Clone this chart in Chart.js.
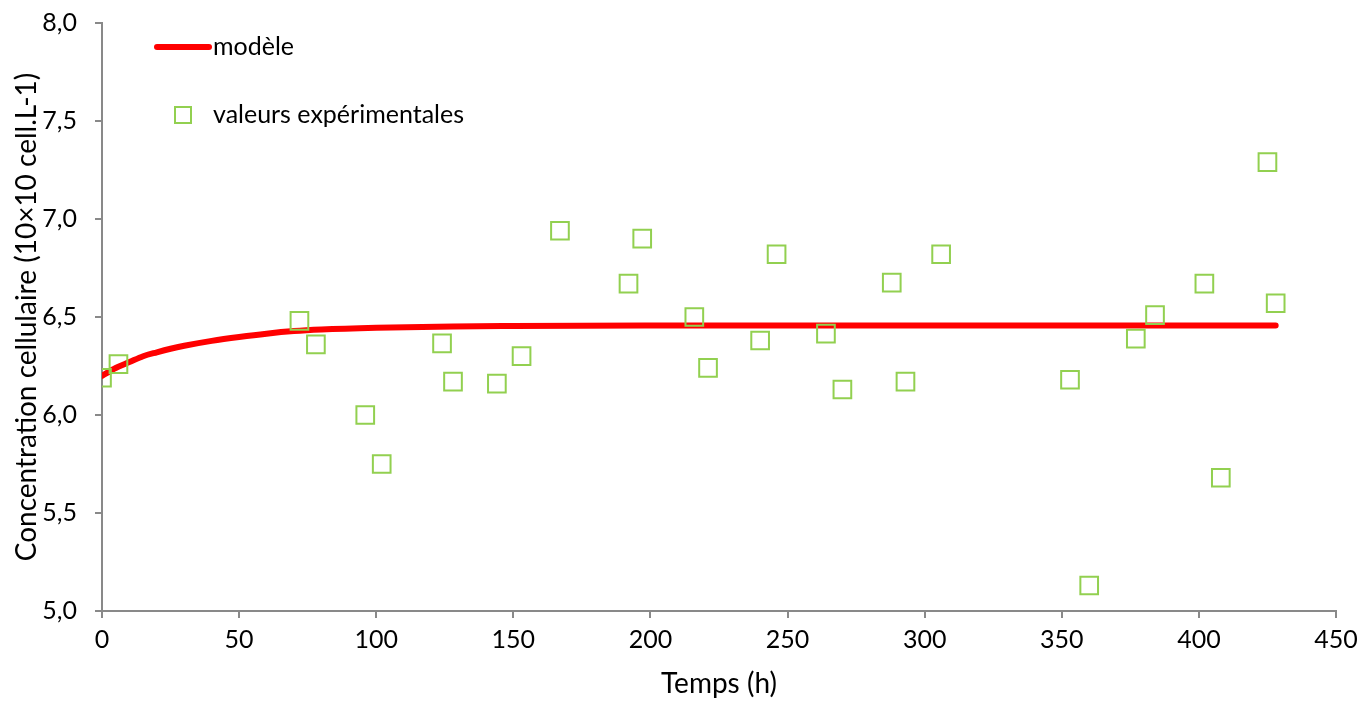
<!DOCTYPE html>
<html>
<head>
<meta charset="utf-8">
<script src="https://cdn.jsdelivr.net/npm/chart.js@4/dist/chart.umd.min.js"></script>
<style>
  html, body { margin: 0; padding: 0; background: #fff; }
  #wrap { width: 1360px; height: 701px; }
</style>
</head>
<body>
<div id="wrap"><canvas id="chart"></canvas></div>
<script>
// model curve
const modelTimes = [0, 5, 10, 15, 20, 25, 30, 40, 50, 60, 70, 80, 100, 128, 150, 200, 250, 300, 350, 400, 428];
const modelValues = [6.20, 6.24, 6.27, 6.30, 6.32, 6.338, 6.353, 6.378, 6.398, 6.415, 6.428, 6.436, 6.445, 6.452, 6.454, 6.456, 6.456, 6.456, 6.456, 6.456, 6.456];

// experimental points
const expTimes = [0, 6, 72, 78, 96, 102, 124, 128, 144, 153, 167, 192, 197, 216, 221, 240, 246, 264, 270, 288, 293, 306, 353, 360, 377, 384, 402, 408, 425, 428];
const expValues = [6.19, 6.26, 6.48, 6.36, 6.00, 5.75, 6.365, 6.17, 6.16, 6.30, 6.94, 6.67, 6.90, 6.50, 6.24, 6.38, 6.82, 6.415, 6.13, 6.675, 6.17, 6.82, 6.18, 5.13, 6.39, 6.51, 6.67, 5.68, 7.29, 6.57];

const xTicks = [0, 50, 100, 150, 200, 250, 300, 350, 400, 450];
const yTicks = [5.0, 5.5, 6.0, 6.5, 7.0, 7.5, 8.0];

const red = "#ff0000";
const green = "#92d050";
const axisGray = "#898989";
const font = "Lato, 'Open Sans', sans-serif";

function toPoints(xs, ys){
  let pts = [];
  for(let i = 0; i < xs.length; i++){
    pts.push({x: xs[i], y: ys[i]});
  }
  return pts;
}

// legend drawn inside the plot, top left
const insideLegend = {
  id: "insideLegend",
  afterDraw(chart){
    const ctx = chart.ctx;
    ctx.save();
    // red line
    ctx.strokeStyle = red;
    ctx.lineWidth = 6;
    ctx.lineCap = "round";
    ctx.beginPath();
    ctx.moveTo(157, 47);
    ctx.lineTo(209, 47);
    ctx.stroke();
    // green square
    ctx.strokeStyle = green;
    ctx.lineWidth = 2;
    ctx.strokeRect(175, 107, 16, 16);
    // texts
    ctx.fillStyle = "#000";
    ctx.font = "25px " + font;
    ctx.textBaseline = "middle";
    ctx.textAlign = "left";
    ctx.fillText("modèle", 213, 47);
    ctx.fillText("valeurs expérimentales", 213, 115);
    ctx.restore();
  }
};

new Chart(document.getElementById("chart"), {
  type: "scatter",
  data: {
    datasets: [
      {
        label: "valeurs expérimentales",
        data: toPoints(expTimes, expValues),
        pointStyle: "rect",
        pointRadius: 12.5,
        pointHoverRadius: 12.5,
        borderColor: green,
        backgroundColor: "rgba(0,0,0,0)",
        borderWidth: 2,
        order: 0
      },
      {
        type: "line",
        label: "modèle",
        data: toPoints(modelTimes, modelValues),
        borderColor: red,
        backgroundColor: red,
        borderWidth: 6,
        borderCapStyle: "round",
        pointRadius: 0,
        cubicInterpolationMode: "monotone",
        fill: false,
        order: 1
      }
    ]
  },
  options: {
    responsive: true,
    maintainAspectRatio: false,
    animation: false,
    layout: { padding: { top: 23, right: 24, left: 0, bottom: 0 } },
    plugins: {
      legend: { display: false },
      tooltip: { enabled: false }
    },
    scales: {
      x: {
        type: "linear",
        min: 0,
        max: 450,
        afterBuildTicks: function(scale){
          scale.ticks = xTicks.map(v => ({value: v}));
        },
        afterFit: function(scale){
          scale.height = 90;
          scale.paddingLeft = 0;
          scale.paddingRight = 0;
        },
        ticks: {
          color: "#000",
          font: { family: font, size: 25 },
          padding: 7,
          maxRotation: 0
        },
        grid: {
          drawOnChartArea: false,
          drawTicks: true,
          tickLength: 7,
          color: axisGray,
          lineWidth: 2
        },
        border: { color: axisGray, width: 2 },
        title: {
          display: true,
          text: "Temps (h)",
          color: "#000",
          font: { family: font, size: 28 },
          padding: { top: 2, bottom: 0 }
        }
      },
      y: {
        type: "linear",
        min: 5,
        max: 8,
        afterBuildTicks: function(scale){
          scale.ticks = yTicks.map(v => ({value: v}));
        },
        afterFit: function(scale){
          scale.width = 102;
          scale.paddingTop = 0;
          scale.paddingBottom = 0;
        },
        ticks: {
          color: "#000",
          font: { family: font, size: 25 },
          padding: 18,
          callback: function(v){ return v.toFixed(1).replace(".", ","); }
        },
        grid: {
          drawOnChartArea: false,
          drawTicks: true,
          tickLength: 7,
          color: axisGray,
          lineWidth: 2
        },
        border: { color: axisGray, width: 2 },
        title: {
          display: true,
          text: "Concentration cellulaire (10×10 cell.L-1)",
          color: "#000",
          font: { family: font, size: 28 },
          padding: { top: 10, bottom: 0 }
        }
      }
    }
  },
  plugins: [insideLegend]
});
</script>
</body>
</html>
